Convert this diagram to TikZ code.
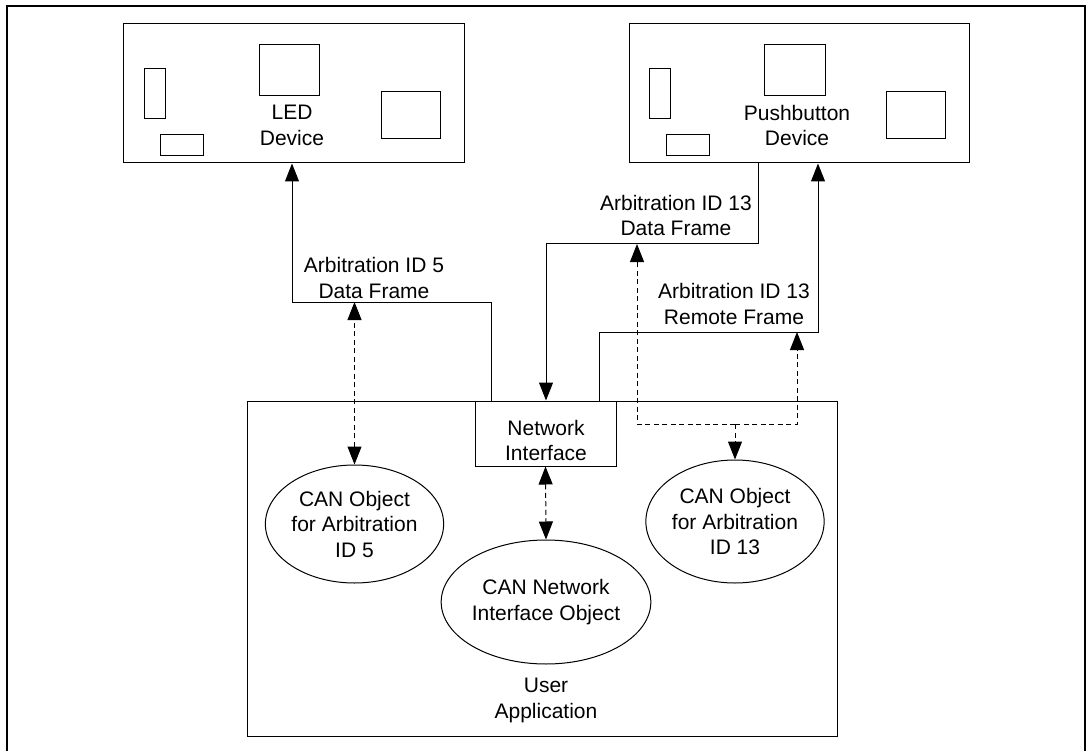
\documentclass[tikz,border=0pt]{standalone}
\usepackage{fontspec}
\setmainfont{Liberation Sans}
\usetikzlibrary{arrows.meta,shapes.geometric,calc}
\begin{document}
\begin{tikzpicture}[x=1pt,y=-1pt,
  txt/.style={font=\fontsize{21}{25.5}\selectfont, align=center, inner sep=0pt},
  box/.style={draw, line width=1pt, inner sep=0pt},
  obj/.style={draw, ellipse, line width=1pt, inner sep=0pt, txt},
  conn/.style={line width=1pt, -{Triangle[length=18pt,width=14pt]}},
  dconn/.style={line width=1pt, dash pattern=on 5pt off 3.5pt},
  tipend/.style={-{Triangle[length=18pt,width=14pt]}},
  tipboth/.style={{Triangle[length=18pt,width=14pt]}-{Triangle[length=18pt,width=14pt]}}
]
\useasboundingbox (0,0) rectangle (1086,751);
% outer frame
\draw[line width=1.6pt] (7,751) -- (7,6) -- (1085,6) -- (1085,751);

% devices
\node[box, minimum width=341pt, minimum height=139pt] (led) at (293.5,93.5) {};
\node[box, minimum width=340pt, minimum height=139pt] (pb) at (799,93.5) {};
\node[txt] (ledlbl) at (292,125.5) {LED\\Device};
\node[txt] (pblbl) at (797,125.5) {Pushbutton\\Device};
% device parts
\begin{scope}[line width=1pt]
\draw (144,69) rectangle (165,119);
\draw (160,135) rectangle (203,156);
\draw (259,45) rectangle (319,96);
\draw (381,92) rectangle (440,139);
\draw (649,69) rectangle (670,119);
\draw (666,135) rectangle (709,156);
\draw (764,45) rectangle (825,96);
\draw (886,92) rectangle (945,139);
\end{scope}

% user application
\node[box, minimum width=590pt, minimum height=335pt] (app) at (542,568.5) {};
\node[box, fill=white, minimum width=141pt, minimum height=65pt] (ni) at (545.5,433.5) {};
\node[txt] (nilbl) at (546,440.5) {Network\\Interface};
\node[obj, minimum width=173pt, minimum height=118pt] (o5) at (354.5,524) {CAN Object\\for Arbitration\\ID 5};
\node[obj, minimum width=174pt, minimum height=123pt] (o13) at (735,521.5) {CAN Object\\for Arbitration\\ID 13};
\node[obj, minimum width=172pt, minimum height=124pt] (oc) at (546,602) {CAN Network\\Interface Object};
\node[txt] (applbl) at (546,700.5) {User\\Application};

% frame labels
\node[txt] (l5) at (374,278) {Arbitration ID 5\\Data Frame};
\node[txt] (l13d) at (676,215.5) {Arbitration ID 13\\Data Frame};
\node[txt] (l13r) at (734,304) {Arbitration ID 13\\Remote Frame};

% turning points
\coordinate (h5) at (292,302);
\coordinate (h13) at (546,244);
\coordinate (r13) at (818,332);
\coordinate (j13) at (735,424);

% solid connectors
\draw[conn] ([xshift=17pt]ni.north west) |- (h5) -- (h5 |- led.south);
\draw[conn] ([xshift=-41pt]pb.south) |- (h13) -- (h13 |- ni.north);
\draw[conn] ([xshift=-17pt]ni.north east) |- (r13) -- (r13 |- pb.south);

% dashed connectors
\draw[dconn, tipboth] (o5.north) -- (o5.north |- h5);
\draw[dconn, tipboth] (ni.south) -- (oc.north);
\draw[dconn, tipend] (j13) -- (o13.north);
\draw[dconn, tipend] (j13) -| ([xshift=91pt]h13);
\draw[dconn, tipend] (j13) -| ([xshift=-21pt]r13);
\end{tikzpicture}
\end{document}
